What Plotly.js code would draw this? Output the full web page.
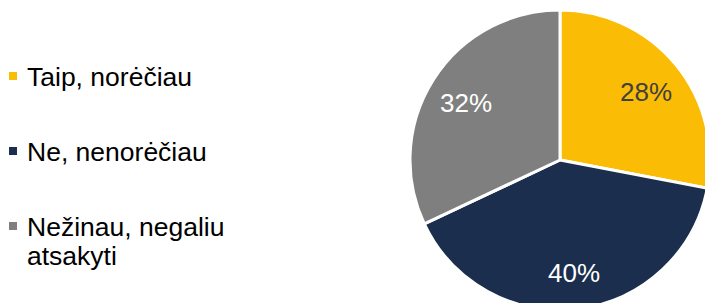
<!DOCTYPE html>
<html>
<head>
<meta charset="utf-8">
<script src="https://cdn.plot.ly/plotly-3.0.1.min.js"></script>
<style>
html,body{margin:0;padding:0;overflow:hidden;background:#fff;}
#chart{width:720px;height:320px;}
</style>
</head>
<body>
<div id="chart"></div>
<script>
const labels = ["Taip, norėčiau", "Ne, nenorėčiau", "Nežinau, negaliu<br>atsakyti"];
const values = [28, 40, 32];
const colors = ["#FBBC05", "#1B2E4E", "#7F7F7F"];
const textColors = ["#404040", "#FFFFFF", "#FFFFFF"];
const legendY = [76, 151, 226]; // cap-centre of first line, px from top

const W = 720, H = 320;
const FONT = "Liberation Sans, Arial, sans-serif";
// pie geometry (px)
const cx = 560, cy = 160, R = 150;

const trace = {
  type: "pie",
  labels: labels,
  values: values,
  sort: false,
  direction: "clockwise",
  rotation: 0,
  marker: {colors: colors, line: {color: "#FFFFFF", width: 3}},
  textinfo: "none",
  domain: {x: [(cx - R) / W, (cx + R) / W], y: [(H - cy - R) / H, (H - cy + R) / H]},
  showlegend: false,
  hoverinfo: "none"
};

const annotations = [];
// legend text
labels.forEach((l, i) => {
  l.split("<br>").forEach((line, j) => {
    const top = legendY[i] - 16 + j * 29;
    annotations.push({
      xref: "paper", yref: "paper",
      x: 25 / W, y: 1 - top / H,
      xanchor: "left", yanchor: "top",
      align: "left", text: line, showarrow: false,
      font: {family: FONT, size: 26.5, color: "#000000"}
    });
  });
});
// percentage labels, placed along each slice's mid angle
const total = values.reduce((a, b) => a + b, 0);
let cum = 0;
values.forEach((v, i) => {
  const mid = (cum + v / 2) / total * 2 * Math.PI;
  cum += v;
  const r = 0.74 * R;
  const px = cx + r * Math.sin(mid);
  const py = cy - r * Math.cos(mid) + 2.5;
  annotations.push({
    xref: "paper", yref: "paper",
    x: px / W, y: 1 - py / H,
    xanchor: "center", yanchor: "middle",
    text: Math.round(v / total * 100) + "%", showarrow: false,
    font: {family: FONT, size: 26, color: textColors[i]}
  });
});

const shapes = labels.map((l, i) => ({
  type: "rect", xref: "paper", yref: "paper",
  x0: 9 / W, x1: 17 / W,
  y0: 1 - (legendY[i] + 4) / H, y1: 1 - (legendY[i] - 4) / H,
  fillcolor: colors[i], line: {width: 0}
}));

const layout = {
  width: W, height: H,
  margin: {l: 0, r: 0, t: 0, b: 0},
  paper_bgcolor: "#FFFFFF",
  showlegend: false,
  annotations: annotations,
  shapes: shapes
};

Plotly.newPlot("chart", [trace], layout, {staticPlot: true, displayModeBar: false});
</script>
</body>
</html>
